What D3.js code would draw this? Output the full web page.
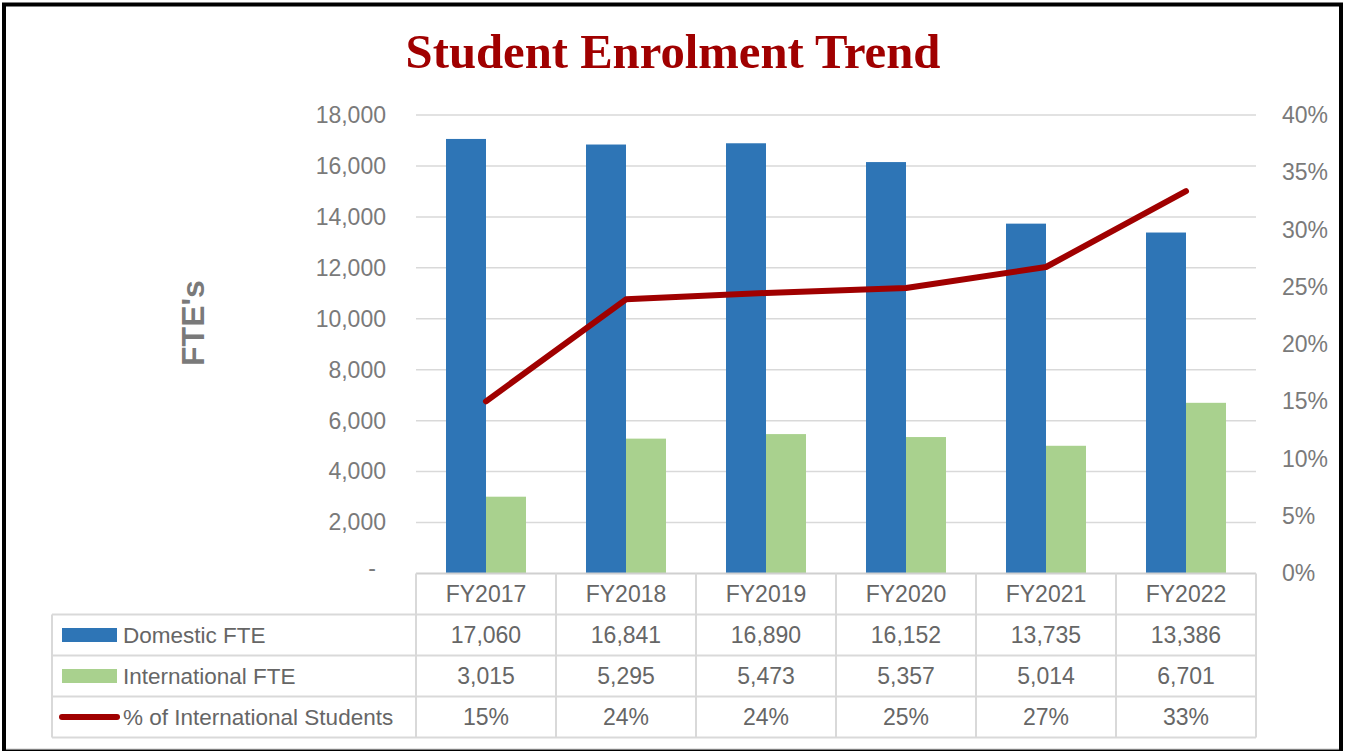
<!DOCTYPE html>
<html lang="en">
<head>
  <meta charset="UTF-8">
  <title>Student Enrolment Trend</title>
  <style>
    body { margin: 0; background: #fff; }
    svg { display: block; font-family: 'Liberation Sans', sans-serif; }
  </style>
  <script src="https://d3js.org/d3.v7.min.js"></script>
</head>
<body>
<script>
  // Chart data
  const categories = ["FY2017", "FY2018", "FY2019", "FY2020", "FY2021", "FY2022"];
  const domestic = [17060, 16841, 16890, 16152, 13735, 13386];
  const international = [3015, 5295, 5473, 5357, 5014, 6701];
  const pctIntl = [0.1502, 0.2392, 0.2447, 0.2490, 0.2674, 0.3336];
  const leftTicks = [0, 2000, 4000, 6000, 8000, 10000, 12000, 14000, 16000, 18000];
  const rightTicks = [0, 0.05, 0.10, 0.15, 0.20, 0.25, 0.30, 0.35, 0.40];

  const W = 1345, H = 751;
  const blue = "#2E75B6", green = "#A9D18E", red = "#A00000";
  const grid = "#d9d9d9", axisText = "#7a7a7a", tableText = "#666666";

  const svg = d3.select("body").append("svg")
    .attr("width", W)
    .attr("height", H);

  // plot area
  const plotLeft = 416, plotRight = 1256, plotTop = 115, plotBottom = 573.5;

  const x = d3.scaleBand().domain(categories).range([plotLeft, plotRight]);
  const sub = d3.scaleBand().domain(["dom", "intl"]).range([30, 110]);
  const y = d3.scaleLinear().domain([0, 18000]).range([plotBottom, plotTop]);
  const y2 = d3.scaleLinear().domain([0, 0.4]).range([plotBottom, plotTop]);

  // title
  svg.append("text")
    .attr("x", 673).attr("y", 68)
    .attr("text-anchor", "middle")
    .style("font-family", "'Liberation Serif', serif")
    .style("font-weight", "bold")
    .style("font-size", "48.7px")
    .attr("fill", red)
    .text("Student Enrolment Trend");

  // gridlines
  svg.append("g")
    .selectAll("line")
    .data(leftTicks.filter(d => d > 0))
    .enter().append("line")
    .attr("x1", plotLeft).attr("x2", plotRight)
    .attr("y1", d => y(d)).attr("y2", d => y(d))
    .attr("stroke", grid)
    .attr("stroke-width", 1.5);

  // left axis
  const gl = svg.append("g")
    .attr("transform", `translate(${plotLeft - 30},0)`)
    .call(d3.axisLeft(y).tickValues(leftTicks).tickSize(0)
      .tickFormat(d => d === 0 ? "-" : d3.format(",")(d)));
  gl.select(".domain").remove();
  gl.selectAll("text")
    .attr("x", 0)
    .attr("fill", axisText)
    .style("font-family", "'Liberation Sans', sans-serif")
    .style("font-size", "23px");
  gl.selectAll(".tick").filter(d => d === 0).select("text").attr("x", -10).attr("dy", "0.1em");

  // right axis
  const gr = svg.append("g")
    .attr("transform", `translate(${plotRight + 26},0)`)
    .call(d3.axisRight(y2).tickValues(rightTicks).tickSize(0).tickFormat(d3.format(".0%")));
  gr.select(".domain").remove();
  gr.selectAll("text")
    .attr("x", 0)
    .attr("fill", axisText)
    .style("font-family", "'Liberation Sans', sans-serif")
    .style("font-size", "23px");

  // axis title
  svg.append("text")
    .attr("transform", "translate(204,323) rotate(-90)")
    .attr("text-anchor", "middle")
    .attr("fill", axisText)
    .style("font-weight", "bold")
    .style("font-size", "32px")
    .text("FTE's");

  // bars
  const groups = svg.append("g")
    .selectAll("g")
    .data(categories)
    .enter().append("g")
    .attr("transform", d => `translate(${x(d)},0)`);

  groups.append("rect")
    .attr("x", sub("dom"))
    .attr("width", sub.bandwidth())
    .attr("y", (d, i) => y(domestic[i]))
    .attr("height", (d, i) => plotBottom - y(domestic[i]))
    .attr("fill", blue);

  groups.append("rect")
    .attr("x", sub("intl"))
    .attr("width", sub.bandwidth())
    .attr("y", (d, i) => y(international[i]))
    .attr("height", (d, i) => plotBottom - y(international[i]))
    .attr("fill", green);

  // line
  const line = d3.line()
    .x((d, i) => x(categories[i]) + x.bandwidth() / 2)
    .y(d => y2(d));

  svg.append("path")
    .datum(pctIntl)
    .attr("d", line)
    .attr("fill", "none")
    .attr("stroke", red)
    .attr("stroke-width", 6)
    .attr("stroke-linecap", "round")
    .attr("stroke-linejoin", "round");

  // data table
  const rowH = 41;
  const tableBottom = plotBottom + 4 * rowH;
  const legendLeft = 52;
  const tg = svg.append("g");

  // horizontal lines
  tg.append("line")
    .attr("x1", plotLeft).attr("x2", plotRight)
    .attr("y1", plotBottom).attr("y2", plotBottom)
    .attr("stroke", "#d0d0d0").attr("stroke-width", 2);
  [1, 2, 3, 4].forEach(k => {
    tg.append("line")
      .attr("x1", legendLeft).attr("x2", plotRight)
      .attr("y1", plotBottom + k * rowH).attr("y2", plotBottom + k * rowH)
      .attr("stroke", grid).attr("stroke-width", 2);
  });
  // vertical lines
  tg.append("line")
    .attr("x1", legendLeft).attr("x2", legendLeft)
    .attr("y1", plotBottom + rowH).attr("y2", tableBottom)
    .attr("stroke", grid).attr("stroke-width", 2);
  categories.concat(["end"]).forEach((c, i) => {
    const xx = plotLeft + i * x.bandwidth();
    tg.append("line")
      .attr("x1", xx).attr("x2", xx)
      .attr("y1", plotBottom).attr("y2", tableBottom)
      .attr("stroke", grid).attr("stroke-width", 2);
  });

  const rows = [
    { label: "Domestic FTE", values: domestic.map(d3.format(",")), key: "bar", color: blue },
    { label: "International FTE", values: international.map(d3.format(",")), key: "bar", color: green },
    { label: "% of International Students", values: pctIntl.map(d3.format(".0%")), key: "line", color: red }
  ];

  // header row
  tg.selectAll(".hdr")
    .data(categories)
    .enter().append("text")
    .attr("x", d => x(d) + x.bandwidth() / 2)
    .attr("y", plotBottom + rowH / 2)
    .attr("dy", "0.36em")
    .attr("text-anchor", "middle")
    .attr("fill", tableText)
    .style("font-size", "23px")
    .text(d => d);

  rows.forEach((r, k) => {
    const cy = plotBottom + (k + 1) * rowH + rowH / 2;
    if (r.key === "bar") {
      tg.append("rect")
        .attr("x", 62).attr("y", cy - 7)
        .attr("width", 55).attr("height", 14)
        .attr("fill", r.color);
    } else {
      tg.append("line")
        .attr("x1", 62).attr("x2", 117)
        .attr("y1", cy).attr("y2", cy)
        .attr("stroke", r.color).attr("stroke-width", 6)
        .attr("stroke-linecap", "round");
    }
    tg.append("text")
      .attr("x", 123).attr("y", cy)
      .attr("dy", "0.36em")
      .attr("fill", tableText)
      .style("font-size", "22.5px")
      .text(r.label);
    tg.selectAll(null)
      .data(r.values)
      .enter().append("text")
      .attr("x", (d, i) => x(categories[i]) + x.bandwidth() / 2)
      .attr("y", cy)
      .attr("dy", "0.36em")
      .attr("text-anchor", "middle")
      .attr("fill", tableText)
      .style("font-size", "23px")
      .text(d => d);
  });

  // outer borders
  svg.append("line")
    .attr("x1", 6).attr("x2", 1339)
    .attr("y1", 748.5).attr("y2", 748.5)
    .attr("stroke", "#e6e6e6").attr("stroke-width", 1);
  svg.append("rect")
    .attr("x", 4).attr("y", 4.5)
    .attr("width", 1337).attr("height", 747)
    .attr("fill", "none")
    .attr("stroke", "#000")
    .attr("stroke-width", 4);
</script>
</body>
</html>
